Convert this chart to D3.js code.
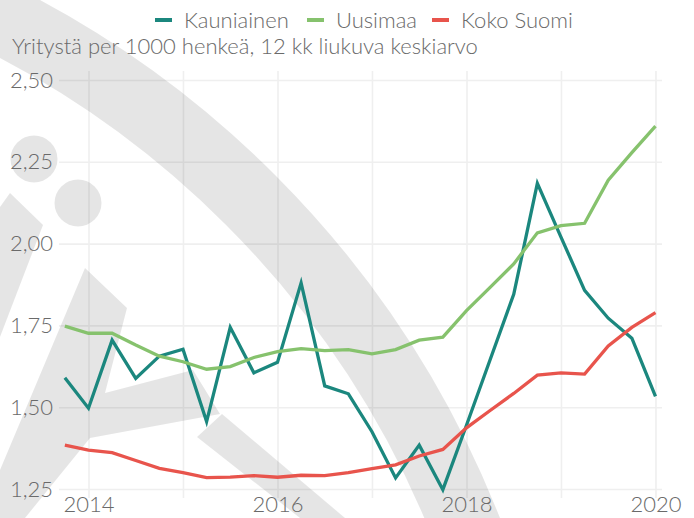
<!DOCTYPE html>
<html>
<head>
<meta charset="utf-8">
<script src="https://cdn.jsdelivr.net/npm/d3@7"></script>
<style>
  html, body { margin: 0; padding: 0; background: #ffffff; }
  svg { display: block; }
  text { font-family: Lato, "Open Sans", sans-serif; fill: #6a6a6a; font-weight: 300; }
</style>
</head>
<body>
<svg id="chart" width="694" height="518"></svg>
<script>
// ---- data (quarterly, 12-month moving average) ----
const periods = [2013.75, 2014.0, 2014.25, 2014.5, 2014.75, 2015.0, 2015.25, 2015.5, 2015.75,
  2016.0, 2016.25, 2016.5, 2016.75, 2017.0, 2017.25, 2017.5, 2017.75,
  2018.0, 2018.25, 2018.5, 2018.75, 2019.0, 2019.25, 2019.5, 2019.75, 2020.0];
const kauniainen = [1.590, 1.497, 1.705, 1.588, 1.656, 1.677, 1.456, 1.744, 1.605,
  1.637, 1.880, 1.565, 1.541, 1.425, 1.284, 1.384, 1.248,
  1.445, 1.645, 1.845, 2.184, 2.020, 1.857, 1.772, 1.711, 1.533];
const uusimaa = [1.748, 1.726, 1.726, 1.690, 1.656, 1.639, 1.616, 1.624, 1.652,
  1.670, 1.679, 1.673, 1.676, 1.663, 1.676, 1.705, 1.714,
  1.795, 1.866, 1.938, 2.033, 2.055, 2.062, 2.194, 2.278, 2.359];
const kokoSuomi = [1.384, 1.369, 1.361, 1.337, 1.313, 1.300, 1.285, 1.286, 1.291,
  1.286, 1.292, 1.291, 1.300, 1.312, 1.324, 1.351, 1.371,
  1.437, 1.490, 1.542, 1.598, 1.605, 1.601, 1.687, 1.744, 1.789];
const seriesNames = ["Kauniainen", "Uusimaa", "Koko Suomi"];
const seriesColors = ["#1b877e", "#86c26d", "#e8544c"];
const yTicks = [1.25, 1.50, 1.75, 2.00, 2.25, 2.50];
const xTicks = [2014, 2015, 2016, 2017, 2018, 2019, 2020];
const xLabels = ["2014", "", "2016", "", "2018", "", "2020"];
const subtitle = "Yritystä per 1000 henkeä, 12 kk liukuva keskiarvo";

// ---- layout ----
const svg = d3.select("#chart");
const pLeft = 59, pRight = 662, pTop = 71, pBottom = 498;
const fs = "22px";
const x = d3.scaleLinear().domain([2013.688, 2020.069]).range([pLeft, pRight]);
const y = d3.scaleLinear().domain([1.2225, 2.5275]).range([pBottom, pTop]);

svg.append("rect").attr("width", 694).attr("height", 518).attr("fill", "#fff");

// ---- gridlines ----
const gridY = svg.append("g").attr("transform", `translate(${pLeft},0)`)
  .call(d3.axisLeft(y).tickValues(yTicks).tickSize(-(pRight - pLeft)).tickFormat(""));
gridY.select(".domain").remove();
gridY.selectAll("line").attr("stroke", "#efefef").attr("stroke-width", 1.6);

const gridX = svg.append("g").attr("transform", `translate(0,${pBottom})`)
  .call(d3.axisBottom(x).tickValues(xTicks).tickSize(-(pBottom - pTop)).tickFormat(""));
gridX.select(".domain").remove();
gridX.selectAll("line").attr("stroke", "#efefef").attr("stroke-width", 1.6);

// ---- watermark (decorative background) ----
const wmFill = "rgba(0,0,0,0.1)";
const wm = svg.append("g").attr("fill", wmFill);
wm.append("circle").attr("cx", -437).attr("cy", 887).attr("r", 972)
  .attr("fill", "none").attr("stroke", wmFill).attr("stroke-width", 70);
wm.append("circle").attr("cx", 34).attr("cy", 159).attr("r", 23.5);
wm.append("circle").attr("cx", 78).attr("cy", 203).attr("r", 23.5);
wm.append("path").attr("d", "M0,207 L10,193 L43,225 L0,337 Z");
wm.append("path").attr("d", "M85,268 L127,308 L105,393 L193,370 L220,414 L90,438 L25,518 L0,518 L0,470 Z");
wm.append("path").attr("d", "M197,437 L222,414 L345,518 L300,518 Z");

// ---- axis labels ----
const ay = svg.append("g").attr("transform", `translate(${pLeft},0)`)
  .call(d3.axisLeft(y).tickValues(yTicks).tickSize(0).tickPadding(6)
    .tickFormat(d => d3.format(".2f")(d).replace(".", ",")));
ay.select(".domain").remove();
ay.selectAll("text").style("font-size", fs).attr("fill", "#6a6a6a");

const ax = svg.append("g").attr("transform", `translate(0,${pBottom})`)
  .call(d3.axisBottom(x).tickValues(xTicks).tickSize(0).tickPadding(-1.5)
    .tickFormat((d, i) => xLabels[i]));
ax.select(".domain").remove();
ax.selectAll("text").style("font-size", fs).attr("fill", "#6a6a6a");

// ---- lines ----
const allSeries = [kauniainen, uusimaa, kokoSuomi];
const line = d3.line().x((d, i) => x(periods[i])).y(d => y(d));
svg.append("g").selectAll("path").data(allSeries).join("path")
  .attr("d", line).attr("fill", "none")
  .attr("stroke", (d, i) => seriesColors[i]).attr("stroke-width", 3.3)
  .attr("stroke-linejoin", "miter");

// ---- subtitle ----
svg.append("text").attr("x", 12).attr("y", 54).style("font-size", fs).text(subtitle);

// ---- legend ----
const legendX = [155, 307, 432];
const lg = svg.append("g");
seriesNames.forEach((n, i) => {
  lg.append("line").attr("x1", legendX[i]).attr("x2", legendX[i] + 17)
    .attr("y1", 20).attr("y2", 20).attr("stroke", seriesColors[i]).attr("stroke-width", 4);
  lg.append("text").attr("x", legendX[i] + 29).attr("y", 28).style("font-size", fs).text(n);
});
</script>
</body>
</html>
